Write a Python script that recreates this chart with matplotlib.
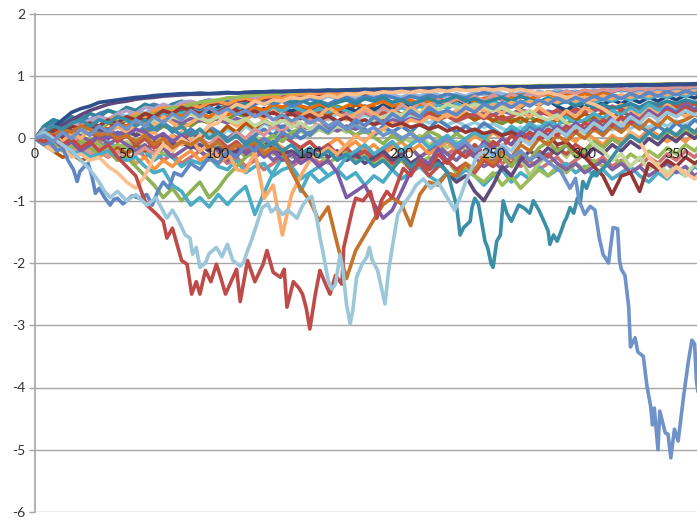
import matplotlib
matplotlib.use("Agg")
import matplotlib.pyplot as plt

# ---------------------------------------------------------------
# Shared x grid for the bundle of walks (step 5)
# ---------------------------------------------------------------
x_grid = list(range(0, 370, 5))  # 0 .. 365

# Walks that climb to the upper envelope
t1 = [0, .08, .18, .3, .42, .48, .52, .58, .6, .62,
      .64, .66, .67, .69, .7, .71, .72, .72, .73, .72,
      .73, .74, .73, .74, .75, .75, .76, .75, .76, .77,
      .77, .77, .78, .77, .78, .78, .79, .78, .79, .79,
      .8, .79, .8, .81, .8, .81, .81, .82, .81, .82,
      .82, .83, .82, .83, .83, .84, .83, .84, .84, .84,
      .85, .84, .85, .85, .86, .85, .86, .86, .86, .87,
      .87, .87, .88, .88]
t2 = [0, .1, .15, .22, .3, .38, .45, .5, .55, .58,
      .6, .63, .65, .66, .68, .69, .7, .71, .71, .72,
      .72, .73, .73, .74, .74, .75, .75, .76, .76, .76,
      .77, .76, .77, .77, .78, .78, .78, .79, .79, .79,
      .79, .8, .8, .8, .81, .81, .81, .82, .82, .82,
      .82, .82, .83, .83, .83, .83, .84, .84, .84, .84,
      .84, .85, .85, .85, .85, .86, .86, .86, .86, .86,
      .87, .87, .87, .87]
t3 = [0, -.05, .05, .1, .05, .15, .2, .18, .25, .3,
      .28, .35, .4, .38, .45, .5, .48, .55, .58, .6,
      .62, .65, .66, .68, .7, .71, .72, .73, .74, .75,
      .76, .77, .77, .78, .78, .79, .79, .79, .8, .8,
      .8, .81, .81, .81, .82, .82, .82, .83, .83, .83,
      .83, .84, .84, .84, .84, .85, .85, .85, .85, .85,
      .86, .86, .86, .86, .86, .87, .87, .87, .87, .87,
      .87, .88, .88, .88]
t4 = [0, .1, .05, .15, .1, .2, .25, .2, .3, .35,
      .3, .4, .35, .45, .5, .45, .52, .55, .5, .58,
      .6, .55, .62, .65, .6, .66, .68, .64, .7, .72,
      .7, .73, .74, .72, .75, .76, .74, .77, .78, .77,
      .78, .79, .79, .8, .8, .81, .81, .81, .82, .82,
      .82, .83, .83, .83, .84, .84, .84, .84, .85, .85,
      .85, .85, .85, .86, .86, .86, .86, .86, .87, .87,
      .87, .87, .87, .88]
t5 = [0, -.05, .05, 0, .1, .15, .1, .2, .25, .2,
      .3, .35, .3, .4, .45, .4, .5, .48, .55, .52,
      .58, .55, .6, .62, .58, .64, .62, .66, .68, .65,
      .7, .68, .72, .7, .73, .74, .72, .75, .76, .75,
      .77, .78, .78, .79, .79, .8, .8, .81, .81, .81,
      .82, .82, .82, .83, .83, .83, .84, .84, .84, .84,
      .84, .85, .85, .85, .85, .86, .86, .86, .86, .87,
      .87, .87, .87, .87]
t6 = [0, .15, .1, .2, .25, .2, .3, .35, .3, .4,
      .45, .4, .5, .48, .55, .5, .58, .6, .55, .62,
      .6, .65, .62, .66, .64, .68, .66, .7, .68, .71,
      .7, .72, .7, .73, .72, .74, .73, .75, .74, .76,
      .75, .77, .76, .78, .77, .78, .79, .78, .8, .79,
      .8, .81, .8, .82, .81, .82, .83, .82, .83, .83,
      .84, .83, .84, .84, .85, .84, .85, .85, .86, .86,
      .86, .87, .87, .87]

# Walks wandering in the upper band
u1 = [0, .2, .3, .25, .35, .3, .4, .35, .45, .4,
      .5, .45, .55, .5, .48, .55, .6, .52, .58, .62,
      .55, .6, .5, .58, .62, .55, .6, .65, .58, .62,
      .55, .6, .52, .58, .62, .56, .64, .6, .66, .58,
      .62, .55, .6, .65, .58, .62, .68, .6, .64, .58,
      .62, .66, .6, .68, .62, .58, .65, .55, .6, .52,
      .58, .5, .55, .48, .52, .56, .5, .58, .54, .6,
      .56, .62, .58, .6]
u2 = [0, -.1, -.2, -.15, -.3, -.25, -.35, -.3, -.45, -.55,
      -.7, -.8, -.6, -.3, -.1, -.2, 0, -.1, .05, .2,
      .25, .45, .55, .5, .6, .55, .62, .6, .66, .64,
      .68, .65, .7, .66, .72, .7, .74, .72, .75, .74,
      .76, .74, .77, .75, .78, .76, .79, .77, .78, .8,
      .78, .8, .77, .79, .76, .72, .74, .7, .66, .68,
      .6, .55, .48, .38, .25, .1, -.05, -.3, -.45, -.62,
      -.45, -.55, -.65, -.5]
u3 = [0, .1, .05, .15, .2, .1, .25, .2, .3, .25,
      .35, .3, .2, .3, .25, .35, .3, .4, .32, .28,
      .35, .3, .25, .32, .2, .28, .22, .3, .18, .25,
      .15, .22, .1, .2, .15, .25, .2, .3, .35, .4,
      .38, .45, .4, .5, .45, .55, .5, .48, .55, .5,
      .45, .5, .42, .38, .45, .35, .3, .38, .25, .15,
      .05, -.1, -.2, -.35, -.25, -.45, -.3, -.5, -.4, -.55,
      -.45, -.6, -.4, -.55]
u4 = [0, .15, .25, .2, .3, .35, .3, .4, .45, .4,
      .48, .42, .5, .55, .5, .45, .52, .58, .5, .55,
      .6, .52, .58, .5, .55, .62, .56, .6, .52, .58,
      .64, .6, .55, .62, .66, .6, .68, .64, .7, .66,
      .62, .68, .64, .7, .66, .72, .68, .65, .7, .74,
      .7, .66, .72, .68, .74, .7, .75, .72, .76, .73,
      .77, .74, .78, .75, .79, .76, .8, .78, .81, .79,
      .82, .8, .83, .82]
u5 = [0, .05, -.05, .1, .05, .15, .1, .2, .15, .25,
      .2, .3, .25, .35, .3, .4, .35, .45, .4, .35,
      .42, .38, .45, .4, .5, .45, .55, .5, .58, .52,
      .48, .55, .5, .45, .52, .58, .5, .55, .6, .52,
      .56, .62, .55, .6, .65, .58, .62, .66, .6, .64,
      .68, .62, .66, .7, .64, .68, .72, .66, .7, .68,
      .72, .68, .74, .7, .66, .72, .68, .74, .7, .76,
      .72, .76, .74, .78]
u6 = [0, -.05, .05, .1, .05, .15, .2, .15, .25, .2,
      .3, .25, .35, .4, .32, .38, .45, .4, .5, .42,
      .48, .52, .45, .5, .42, .48, .4, .46, .38, .44,
      .5, .42, .48, .4, .45, .38, .42, .35, .4, .45,
      .38, .42, .35, .4, .3, .36, .28, .34, .4, .32,
      .38, .3, .35, .42, .36, .44, .38, .46, .4, .48,
      .42, .5, .44, .52, .46, .54, .48, .56, .5, .58,
      .52, .6, .55, .62]
u7 = [0, .2, .3, .25, .2, .3, .25, .35, .3, .38,
      .32, .4, .35, .42, .38, .45, .4, .48, .42, .5,
      .44, .52, .46, .54, .48, .42, .5, .44, .52, .46,
      .4, .48, .42, .5, .44, .38, .46, .4, .48, .42,
      .5, .44, .52, .46, .54, .48, .56, .5, .58, .52,
      .6, .54, .62, .56, .64, .58, .66, .6, .64, .58,
      .62, .56, .64, .6, .66, .62, .68, .64, .7, .66,
      .72, .68, .74, .7]
u8 = [0, .1, .2, .15, .25, .3, .25, .35, .3, .4,
      .35, .45, .4, .5, .45, .55, .5, .58, .52, .6,
      .55, .62, .58, .64, .6, .66, .62, .68, .64, .7,
      .66, .62, .68, .64, .7, .66, .72, .68, .64, .7,
      .66, .72, .68, .74, .7, .66, .72, .68, .74, .7,
      .76, .72, .68, .74, .7, .76, .72, .78, .74, .76,
      .72, .78, .74, .8, .76, .78, .74, .8, .76, .82,
      .78, .82, .8, .84]
u9 = [0, -.1, -.05, -.15, -.1, -.2, -.1, -.05, .05, 0,
      .1, .05, .15, .1, .2, .15, .25, .2, .3, .25,
      .35, .3, .4, .35, .45, .4, .5, .45, .4, .48,
      .42, .5, .45, .52, .46, .4, .48, .42, .5, .44,
      .38, .46, .4, .48, .42, .36, .44, .38, .3, .36,
      .3, .24, .32, .26, .34, .28, .22, .3, .24, .32,
      .26, .34, .28, .36, .3, .38, .32, .4, .34, .42,
      .36, .44, .38, .46]
u10 = [0, .05, .15, .1, .2, .25, .2, .3, .25, .35,
       .3, .38, .32, .28, .35, .3, .25, .32, .28, .35,
       .3, .25, .32, .28, .2, .26, .22, .18, .25, .2,
       .15, .22, .18, .12, .2, .15, .22, .28, .24, .3,
       .26, .32, .28, .35, .3, .38, .32, .4, .36, .42,
       .38, .44, .4, .46, .42, .38, .44, .4, .46, .42,
       .48, .44, .5, .46, .52, .48, .44, .5, .46, .52,
       .48, .54, .5, .56]

# Walks in the middle band
m1 = [0, -.1, 0, -.15, -.05, -.2, -.1, .05, 0, .1,
      .05, .15, .1, 0, .08, -.05, .05, -.1, 0, -.15,
      -.05, -.2, -.1, -.25, -.15, -.3, -.2, -.35, -.25, -.4,
      -.3, -.45, -.35, -.55, -.95, -.85, -.75, -1.05, -1.28, -1.15,
      -.85, -.53, -.32, -.4, -.16, -.37, -.2, -.1, -.25, -.05,
      -.15, 0, -.1, .1, 0, .15, .05, .2, .1, .25,
      .15, .3, .2, .35, .25, .4, .3, .45, .35, .5,
      .4, .55, .45, .6]
m2 = [0, .05, .1, .05, .15, .1, .2, .15, .1, .2,
      .15, .05, .1, 0, .05, -.1, -.05, -.15, -.1, -.2,
      -.15, -.25, -.2, -.1, -.2, -.05, -.15, -.25, -.2, -.3,
      -.25, -.15, -.3, -.2, -.35, -.25, -.4, -.3, -.2, -.35,
      -.25, -.4, -.3, -.45, -.35, -.55, -.7, -.6, -.85, -1.0,
      -.75, -.45, -.6, -.35, -.2, -.3, -.15, -.25, -.1, -.2,
      -.3, -.15, -.25, -.1, -.2, -.05, -.15, 0, -.1, .05,
      -.05, .1, 0, .15]
m3 = [0, -.1, -.2, -.15, -.25, -.2, -.3, -.25, -.2, -.3,
      -.35, -.3, -.45, -.55, -.5, -.75, -.85, -1.07, -.95, -1.1,
      -.9, -1.06, -.9, -.77, -1.22, -.87, -.55, -.3, -.45, -.85,
      -.55, -.45, -.6, -.5, -.3, -.2, -.1, -.25, -.15, -.05,
      -.2, -.1, 0, -.15, -.05, .05, -.1, 0, .1, 0,
      .15, .05, .2, .1, .25, .15, .3, .2, .35, .25,
      .3, .4, .32, .45, .38, .5, .42, .55, .46, .5,
      .44, .52, .48, .55]
m4 = [0, -.05, -.1, -.2, -.15, -.05, -.15, -.25, -.2, -.35,
      -.3, -.45, -.6, -.75, -.95, -.8, -1.0, -.85, -.7, -.95,
      -.8, -.6, -.45, -.3, -.15, -.05, .05, -.05, .1, .15,
      .05, .2, .1, .22, .15, .05, .12, .02, -.08, .05,
      -.05, .1, -.02, .12, .05, -.05, .08, -.02, .1, .02,
      -.1, -.3, -.45, -.2, -.35, -.15, -.05, -.2, -.1, -.3,
      -.2, -.05, -.15, 0, -.1, .05, -.05, .1, 0, .12,
      .05, .15, .08, .18]
m5 = [0, -.1, .05, -.05, .1, 0, .15, .05, .1, .2,
      .1, .15, .05, .1, -.05, .05, -.1, 0, -.2, -.1,
      -.3, -.2, -.5, -.53, -.21, -.96, -.75, -1.55, -.9, -.6,
      -.35, -.25, -.15, -.25, -.1, .05, -.05, .1, .15, .25,
      .2, .3, .25, .35, .3, .4, .35, .45, .5, .45,
      .55, .5, .58, .52, .6, .55, .62, .58, .64, .6,
      .66, .62, .68, .64, .7, .66, .72, .68, .74, .7,
      .75, .72, .76, .74]
m8 = [0, -.1, -.2, -.1, -.25, -.15, -.3, -.2, -.1, -.2,
      -.05, -.15, 0, -.1, .05, -.05, .1, 0, .15, .05,
      .1, 0, .08, -.05, .05, -.1, 0, .1, .02, .12,
      .05, .15, .08, .18, .1, .2, .12, .05, .15, .08,
      .02, -.05, .05, -.1, -.02, -.15, -.05, -.2, -.1, -.25,
      -.35, -.2, -.45, -.3, -.6, -.4, -.25, -.15, -.3, -.1,
      -.2, -.05, -.15, 0, -.1, .05, -.05, .1, 0, .15,
      .05, .2, .1, .25]
m9 = [0, .1, 0, -.1, -.05, -.15, -.1, -.2, -.15, -.25,
      -.2, -.1, -.2, -.05, -.15, 0, -.1, .05, -.05, .1,
      0, .15, .05, .2, .1, .25, .15, .3, .2, .35,
      .25, .35, .3, .4, .35, .3, .38, .32, .4, .35,
      .3, .38, .32, .25, .3, .22, .28, .2, .26, .18,
      .24, .16, .1, .18, .12, .2, .14, .22, .16, .1,
      .18, .12, .2, .14, .22, .16, .24, .18, .26, .2,
      .28, .22, .3, .25]
m10 = [0, -.1, -.2, -.3, -.25, -.35, -.3, -.2, -.3, -.15,
       -.25, -.1, -.2, -.05, -.15, .05, -.05, .1, 0, .15,
       .05, .2, .1, .25, .15, .3, .2, .35, .25, .4,
       .3, .45, .35, .5, .4, .55, .45, .5, .4, .48,
       .38, .46, .36, .44, .34, .42, .32, .4, .3, .38,
       .28, .36, .26, .34, .24, .32, .22, .3, .38, .3,
       .4, .32, .42, .34, .44, .36, .46, .38, .48, .4,
       .5, .42, .52, .45]
m11 = [0, .1, .05, .15, .2, .15, .25, .3, .25, .35,
       .3, .4, .35, .45, .4, .5, .45, .4, .48, .42,
       .5, .45, .52, .46, .4, .48, .42, .5, .44, .52,
       .46, .54, .48, .42, .5, .44, .52, .46, .54, .48,
       .56, .5, .58, .52, .6, .54, .62, .56, .6, .54,
       .58, .52, .56, .5, .6, .54, .62, .52, .45, .55,
       .5, .6, .55, .62, .56, .64, .58, .66, .6, .68,
       .62, .7, .65, .72]
m12 = [0, -.05, -.15, -.1, -.2, -.1, -.25, -.15, -.3, -.2,
       -.35, -.25, -.15, -.25, -.1, -.2, -.05, -.15, 0, -.1,
       .05, -.05, .1, 0, .15, .05, .2, .1, .25, .15,
       .3, .2, .35, .25, .4, .3, .45, .35, .5, .4,
       .55, .45, .6, .5, .62, .55, .65, .58, .68, .6,
       .7, .62, .72, .65, .74, .68, .75, .7, .76, .72,
       .78, .74, .79, .76, .8, .77, .81, .78, .82, .8,
       .83, .81, .84, .83]
m13 = [0, .05, -.05, .05, -.1, 0, -.15, -.05, -.2, -.1,
       -.25, -.15, -.3, -.2, -.35, -.25, -.4, -.3, -.2, -.35,
       -.25, -.4, -.3, -.45, -.35, -.5, -.4, -.3, -.45, -.35,
       -.25, -.4, -.3, -.2, -.35, -.25, -.15, -.3, -.2, -.1,
       -.25, -.15, -.3, -.2, -.1, -.25, -.15, -.3, -.2, -.35,
       -.25, -.4, -.3, -.45, -.35, -.5, -.4, -.3, -.45, -.35,
       -.25, -.4, -.3, -.45, -.35, -.55, -.45, -.3, -.4, -.25,
       -.35, -.2, -.3, -.15]
n1 = [0, .05, -.1, -.05, -.2, -.1, -.25, -.15, -.05, -.15,
      -.1, -.25, -.2, -.35, -.25, -.3, -.45, -.35, -.4, -.3,
      -.45, -.5, -.35, -.55, -.45, -.4, -.6, -.5, -.45, -.65,
      -.55, -.7, -.6, -.5, -.65, -.55, -.75, -.6, -.7, -.5,
      -.65, -.55, -.45, -.6, -.7, -.55, -.65, -.5, -.6, -.75,
      -.6, -.5, -.7, -.55, -.65, -.45, -.6, -.5, -.4, -.55,
      -.45, -.6, -.5, -.65, -.55, -.45, -.6, -.7, -.55, -.65,
      -.5, -.6, -.45, -.55]
n2 = [0, -.05, .05, -.05, -.15, -.05, 0, -.1, -.2, -.1,
      -.15, -.05, -.2, -.1, -.25, -.15, -.05, -.15, -.1, -.2,
      -.1, -.25, -.15, -.3, -.2, -.1, -.25, -.15, -.3, -.2,
      -.35, -.25, -.4, -.3, -.2, -.35, -.25, -.4, -.3, -.45,
      -.35, -.5, -.4, -.3, -.45, -.35, -.55, -.45, -.6, -.7,
      -.55, -.75, -.6, -.8, -.65, -.5, -.6, -.45, -.55, -.4,
      -.5, -.35, -.45, -.3, -.4, -.25, -.35, -.2, -.3, -.15,
      -.25, -.1, -.2, -.05]
n3 = [0, .1, .05, 0, .1, .05, -.05, .05, -.1, 0,
      -.1, -.2, -.1, -.25, -.15, -.3, -.2, -.1, -.2, -.3,
      -.2, -.35, -.25, -.15, -.3, -.2, -.35, -.25, -.4, -.3,
      -.2, -.3, -.15, -.25, -.35, -.25, -.15, -.3, -.2, -.35,
      -.25, -.15, -.3, -.2, -.1, -.25, -.35, -.2, -.3, -.45,
      -.35, -.5, -.4, -.3, -.45, -.35, -.25, -.4, -.5, -.4,
      -.55, -.45, -.35, -.5, -.4, -.55, -.45, -.6, -.5, -.4,
      -.55, -.45, -.6, -.5]
n4 = [0, -.05, -.15, -.05, -.1, -.25, -.15, -.3, -.2, -.35,
      -.25, -.4, -.3, -.5, -.35, -.45, -.3, -.2, -.35, -.25,
      -.4, -.3, -.15, -.25, -.1, -.2, -.05, -.15, -.25, -.15,
      -.05, -.2, -.1, 0, -.15, -.05, -.2, -.1, -.25, -.15,
      -.05, -.2, -.1, -.25, -.15, -.05, -.2, -.1, .05, -.05,
      .1, 0, -.1, .05, -.05, .1, 0, .15, .05, -.05,
      .1, 0, -.1, .05, -.05, .1, 0, .15, .05, -.05,
      .05, -.05, .1, 0]
n5 = [0, .1, 0, .15, .05, .2, .1, 0, .1, -.05,
      .05, -.1, 0, -.15, -.05, .05, -.05, .1, 0, -.1,
      0, -.15, -.05, -.2, -.1, 0, -.1, .05, -.05, -.15,
      -.05, -.2, -.1, -.25, -.15, -.3, -.2, -.35, -.25, -.4,
      -.3, -.5, -.4, -.6, -.45, -.35, -.5, -.4, -.55, -.35,
      -.45, -.3, -.4, -.25, -.35, -.2, -.3, -.15, -.25, -.1,
      -.2, -.05, -.15, 0, -.1, .05, -.05, .1, 0, .15,
      .05, .2, .1, .25]
n6 = [0, -.05, .05, .15, .05, .1, .2, .1, .15, .05,
      .15, .05, .2, .1, .25, .15, .05, .15, .05, .2,
      .1, 0, .1, -.05, .05, .15, .05, .2, .1, 0,
      .1, .2, .1, .25, .15, .05, .15, .05, .2, .1,
      .2, .1, .25, .15, .3, .2, .1, .2, .1, .25,
      .15, .05, .15, .05, .2, .1, .25, .15, .05, .15,
      .05, .2, .1, .25, .15, .3, .2, .1, .2, .1,
      .25, .15, .3, .2]
n7 = [0, .1, .2, .1, .05, .15, .25, .15, .3, .2,
      .1, .2, .3, .2, .35, .25, .15, .25, .35, .25,
      .4, .3, .2, .3, .4, .3, .45, .35, .25, .35,
      .45, .35, .5, .4, .3, .4, .5, .4, .3, .45,
      .35, .5, .4, .55, .45, .35, .45, .55, .45, .35,
      .5, .4, .55, .45, .35, .5, .4, .3, .45, .35,
      .5, .4, .3, .45, .55, .45, .35, .5, .4, .55,
      .45, .35, .5, .4]
r2 = [0, .05, .15, .1, .2, .15, .25, .2, .3, .25,
      .35, .3, .4, .35, .45, .4, .5, .45, .4, .48,
      .42, .5, .45, .38, .44, .36, .42, .34, .4, .32,
      .38, .3, .36, .28, .34, .25, .3, .22, .28, .2,
      .25, .18, .22, .15, .2, .12, .18, .1, .15, .08,
      .12, .05, .1, .02, .08, 0, .05, -.1, -.05, -.2,
      -.3, -.45, -.6, -.9, -.6, -.55, -.85, -.4, -.5, -.35,
      -.45, -.3, -.4, -.3]

# Walks with deep excursions
orange_dip_y = [0, .1, .05, .15, .1, .2, .15, .05, .1, 0,
                .05, -.05, .05, -.1, 0, -.15, -.05, -.1, 0, -.15,
                -.05, -.2, -.1, -.15, -.05, -.25, -.15, -.2, -.53, -.8,
                -1.0, -1.32, -1.1, -1.7, -2.25, -1.8, -1.55, -1.3, -1.06, -.95,
                -1.05, -1.4, -.9, -.7, -.75, -.55, -.6, -.4, -.5, -.3,
                -.4, -.2, -.3, -.1, -.2, 0, -.1, .05, -.05, .1,
                0, .15, .05, .2, .1, .25, .15, .3, .2, .35,
                .25, .3, .38, .32]

red_x = [0, 5, 10, 15, 20, 25, 30, 35, 40, 45, 50, 55, 58, 61, 66.5, 70, 72, 75,
         80, 83, 85.5, 88, 90, 93, 96, 99, 101, 104, 107, 110, 112, 116, 120,
         124.5, 126.6, 130, 134, 136, 137.5, 141, 144, 146, 148, 150, 153,
         155.5, 158, 161, 164, 167.5, 168.5, 171, 173, 175, 179, 183, 186.6,
         189, 192, 195, 197.5, 201, 205, 210, 215, 220, 225, 230, 235, 240,
         245, 250, 255, 260, 265, 270, 275, 280, 285, 290, 295, 300, 305, 310,
         315, 320, 325, 330, 335, 340, 345, 350, 355, 360, 365]
red_y = [0, -.05, .05, -.1, 0, -.15, -.05, -.2, -.1, -.3, -.45, -.6, -.85, -1.07,
         -1.22, -1.33, -1.6, -1.44, -1.96, -2.02, -2.5, -2.3, -2.5, -2.12, -2.3,
         -2.02, -2.2, -2.5, -2.3, -2.1, -2.62, -1.96, -2.3, -2.02, -1.8, -2.15,
         -2.23, -2.1, -2.71, -2.3, -2.4, -2.5, -2.72, -3.06, -2.5, -2.12, -2.3,
         -2.5, -2.2, -2.34, -1.75, -1.43, -1.17, -.96, -1.0, -.85, -1.28, -1.0,
         -.85, -.95, -.74, -.48, -.6, -.35, -.5, -.25, -.4, -.2, -.3, -.1, -.25,
         -.05, -.15, .05, -.05, .1, 0, .15, .05, .2, .1, .25, .15, .3, .2, .35,
         .25, .3, .4, .32, .45, .38, .5, .42, .5]

sky_x = [0, 5, 10, 15, 20, 25, 30, 35, 38, 41, 45, 50, 55, 61, 66, 72, 75, 78,
         82, 84.6, 86, 88, 90, 93, 95, 99, 102, 105, 108, 112, 114, 116, 118,
         121, 124, 127, 129, 132, 135, 138, 143, 146, 148.5, 151, 154, 155.6,
         157, 160, 162, 164, 166.5, 168, 170, 172, 173.5, 175.5, 178.5, 181,
         182.5, 184, 187, 189, 191, 193, 195, 196.5, 198, 201, 205, 208, 212,
         216, 220, 225, 229, 232, 235, 238, 241, 245, 250, 255, 260, 265, 270,
         275, 280, 285, 290, 295, 300, 305, 310, 315, 320, 325, 330, 335, 340,
         345, 350, 355, 360, 365]
sky_y = [0, .1, 0, -.1, -.2, -.35, -.5, -.7, -.85, -.95, -.85, -1.0, -.9, -1.07,
         -.95, -1.28, -1.15, -1.3, -1.55, -1.6, -1.86, -1.75, -2.07, -2.0, -1.85,
         -1.75, -1.9, -1.7, -1.96, -2.05, -1.98, -1.8, -1.65, -1.38, -1.11, -1.05,
         -1.18, -1.1, -1.22, -1.15, -1.28, -1.08, -.98, -.93, -1.32, -1.6, -1.8,
         -2.28, -2.42, -2.34, -1.86, -2.1, -2.66, -2.98, -2.75, -2.23, -2.02,
         -1.91, -1.75, -1.95, -2.12, -2.39, -2.66, -2.12, -1.75, -1.48, -1.22,
         -1.07, -.9, -.75, -.65, -.8, -.7, -.95, -1.15, -.95, -.7, -.5, -.3, -.2,
         -.3, -.1, -.2, 0, -.1, .1, 0, .15, .05, .2, .1, .25, .15, .3, .2, .35,
         .25, .4, .3, .42, .35, .45, .38, .45]

teal_x = [0, 5, 10, 15, 20, 25, 30, 35, 40, 45, 50, 55, 60, 65, 70, 75, 80, 85,
          90, 95, 100, 105, 110, 115, 120, 125, 130, 135, 140, 145, 150, 155,
          160, 165, 170, 175, 180, 185, 190, 195, 200, 205, 210, 215, 220, 225,
          230, 232, 234, 237.5, 238.5, 240, 242, 244, 245.6, 247, 249, 250, 252,
          254, 255.5, 257.5, 260, 262, 264, 267, 270, 272, 275, 277, 280, 281,
          283, 285, 287, 289, 290, 292, 294, 296, 297.5, 299, 301, 303, 305,
          306.5, 308, 312, 315, 320, 325, 330, 335, 340, 345, 350, 355, 360, 365]
teal_y = [0, .1, .2, .15, .25, .3, .2, .3, .25, .35, .3, .2, .3, .15, .25, .1,
          .2, .05, .15, 0, .1, -.05, .05, -.1, 0, -.15, -.05, -.2, -.1, -.25,
          -.15, -.3, -.2, -.35, -.25, -.4, -.3, -.45, -.35, -.5, -.3, -.45,
          -.35, -.5, -.4, -.53, -1.07, -1.55, -1.43, -1.33, -1.11, -.96, -1.05,
          -1.38, -1.65, -1.75, -2.02, -2.07, -1.65, -1.55, -1.0, -1.2, -1.33,
          -1.2, -1.07, -1.12, -1.2, -1.0, -1.15, -1.28, -1.48, -1.7, -1.55,
          -1.65, -1.5, -1.33, -1.28, -1.11, -1.2, -.96, -1.05, -.69, -.8, -.64,
          -.53, -.6, -.53, -.43, -.3, -.1, .05, -.05, .1, 0, .15, .05, .2, .1, .2]

early_blue_x = [0, 5, 8, 12, 15, 18, 21, 23, 24.5, 27, 29, 31, 33, 35, 38, 41, 43,
                45, 48, 50, 53, 57, 61, 64, 67, 70, 73, 76, 80, 85, 90, 95, 100,
                105, 110, 115, 120, 125, 130, 135, 140, 145, 150, 155, 160, 165,
                170, 175, 180, 185, 190, 195, 200, 205, 210, 215, 220, 225, 230,
                235, 240, 245, 250, 255, 260, 265, 270, 275, 280, 285, 290, 295,
                300, 305, 310, 315, 320, 325, 330, 335, 340, 345, 350, 355, 360, 365]
early_blue_y = [0, -.1, -.05, -.2, -.15, -.35, -.5, -.69, -.53, -.45, -.4, -.6,
                -.88, -.8, -.95, -1.07, -.98, -.96, -1.05, -1.0, -.92, -.96, -.9,
                -1.07, -.85, -.7, -.8, -.55, -.6, -.4, -.5, -.3, -.4, -.2, -.3,
                -.1, -.2, 0, -.1, .1, 0, .15, .05, .2, .1, .25, .15, .3, .2, .35,
                .25, .4, .3, .45, .35, .5, .4, .45, .38, .5, .42, .55, .48, .58,
                .5, .6, .52, .62, .55, .65, .58, .66, .6, .68, .62, .7, .64, .72,
                .66, .74, .68, .75, .7, .76, .72, .77]

late_blue_x = [0, 5, 10, 15, 20, 25, 30, 35, 40, 45, 50, 55, 60, 65, 70, 75, 80,
               85, 90, 95, 100, 105, 110, 115, 120, 125, 130, 135, 140, 145, 150,
               155, 160, 165, 170, 175, 180, 185, 190, 195, 200, 205, 210, 215,
               220, 225, 230, 235, 240, 245, 250, 255, 260, 265, 270, 275, 281,
               287, 292, 295, 297, 300, 303, 305.6, 308, 310, 313, 315.5, 318,
               319, 320, 322, 324, 325, 327.5, 329, 332, 334, 336, 337, 338, 340,
               341, 344, 345.5, 347, 349, 351, 354, 356.5, 358.5, 360, 361, 362]
late_blue_y = [0, .05, -.05, .1, 0, .15, .05, .2, .1, .25, .15, .3, .2, .35, .25,
               .4, .3, .45, .35, .5, .4, .48, .38, .45, .35, .42, .3, .38, .28,
               .35, .25, .32, .2, .28, .15, .22, .1, .18, .05, .12, 0, .08, -.05,
               .05, -.1, 0, -.15, -.05, -.2, -.1, -.25, -.15, -.3, -.2, -.35,
               -.25, -.4, -.53, -.8, -.64, -1.0, -1.22, -1.09, -1.15, -1.6, -1.86,
               -2.0, -1.43, -1.45, -1.96, -2.1, -2.2, -2.7, -3.35, -3.2, -3.43,
               -3.5, -3.98, -4.3, -4.6, -4.33, -5.0, -4.38, -4.73, -4.75, -5.13,
               -4.67, -4.86, -4.14, -3.6, -3.24, -3.3, -3.9, -4.1]

# Axis ticks
y_ticks = [-6, -5, -4, -3, -2, -1, 0, 1, 2]
x_tick_values = [0, 50, 100, 150, 200, 250, 300, 350]

# ---------------------------------------------------------------
# Drawing
# ---------------------------------------------------------------
grid_series = [
    (u9, "#77933C"), (m13, "#CD7371"), (n1, "#4BACC6"), (m8, "#AFC97A"),
    (m9, "#93CDDD"), (n2, "#9BBB59"), (u10, "#8064A2"), (m10, "#B65708"),
    (n3, "#8064A2"), (u6, "#C0504D"), (m11, "#1F497D"), (n4, "#F79646"),
    (u7, "#4BACC6"), (u8, "#95B3D7"), (n5, "#C0504D"), (u5, "#E46C0A"),
    (u4, "#4F81BD"), (n6, "#4F81BD"), (m12, "#D99694"), (n7, "#F9AB6B"),
    (u1, "#31859C"), (t6, "#B2A1C7"), (t5, "#953735"), (t4, "#F79646"),
    (t3, "#9BBB59"), (t2, "#5F497A"), (t1, "#2E4E8C"), (m2, "#604A7B"),
    (m4, "#8DB255"), (m3, "#4BACC6"), (m5, "#F9AB6B"), (u3, "#C3D69B"),
    (r2, "#953735"), (m1, "#7D5BA6"), (u2, "#FAC090"),
    (orange_dip_y, "#C4722C"),
]
point_series = [
    (early_blue_x, early_blue_y, "#5F87C4"),
    (teal_x, teal_y, "#3A8FA6"),
    (red_x, red_y, "#BE4B48"),
    (sky_x, sky_y, "#9CC6DA"),
    (late_blue_x, late_blue_y, "#6F93C8"),
]

fig = plt.figure(figsize=(6.97, 5.20), dpi=100)
ax = fig.add_axes([35 / 697, 8 / 520, 662 / 697, 498 / 520])

lw = 2.6
for ys, col in grid_series:
    assert len(ys) == len(x_grid)
    ax.plot(x_grid, ys, color=col, lw=lw, solid_joinstyle="round",
            solid_capstyle="round", zorder=3)
for xs, ys, col in point_series:
    assert len(xs) == len(ys)
    ax.plot(xs, ys, color=col, lw=lw, solid_joinstyle="round",
            solid_capstyle="round", zorder=3)

ax.set_xlim(0, 361.3)
ax.set_ylim(-6, 2)

# Horizontal gridlines and the category axis at zero
for yv in y_ticks:
    ax.axhline(yv, color="#A6A6A6", lw=1.0, zorder=1)
ax.axhline(0, color="#A6A6A6", lw=1.2, zorder=2)

for side in ("top", "right", "bottom"):
    ax.spines[side].set_visible(False)
ax.spines["left"].set_color("#A6A6A6")
ax.spines["left"].set_linewidth(1.2)

ax.set_yticks(y_ticks)
ax.set_yticklabels([str(v) for v in y_ticks])
ax.tick_params(axis="y", length=4, width=1, color="#A6A6A6", pad=3,
               labelsize=10, labelcolor="#333333")
ax.set_xticks([])

for xv in x_tick_values:
    ax.annotate(str(xv), xy=(xv, 0), xytext=(0, -11), textcoords="offset points",
                ha="center", va="center", fontsize=10, color="#222222",
                zorder=10, annotation_clip=False)

for lab in ax.get_yticklabels():
    lab.set_fontfamily("Lato")

for t in ax.texts:
    t.set_fontfamily("Lato")

fig.savefig("out.png", dpi=100)
